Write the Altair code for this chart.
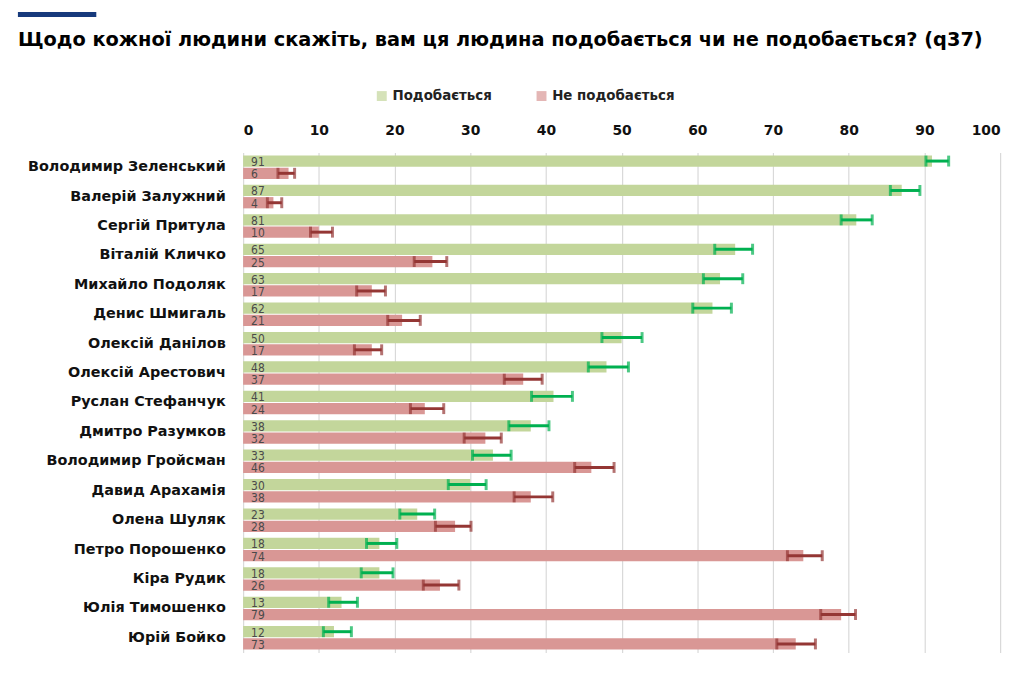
import altair as alt
import pandas as pd

names = ["Володимир Зеленський", "Валерій Залужний", "Сергій Притула", "Віталій Кличко",
         "Михайло Подоляк", "Денис Шмигаль", "Олексій Данілов", "Олексій Арестович",
         "Руслан Стефанчук", "Дмитро Разумков", "Володимир Гройсман", "Давид Арахамія",
         "Олена Шуляк", "Петро Порошенко", "Кіра Рудик", "Юлія Тимошенко", "Юрій Бойко"]
series = ["Подобається", "Не подобається"]
like = [91, 87, 81, 65, 63, 62, 50, 48, 41, 38, 33, 30, 23, 18, 18, 13, 12]
dislike = [6, 4, 10, 25, 17, 21, 17, 37, 24, 32, 46, 38, 28, 74, 26, 79, 73]
like_lo = [90.2, 85.5, 79.0, 62.3, 60.8, 59.4, 47.4, 45.6, 38.1, 35.1, 30.3, 27.1, 20.7, 16.3, 15.6, 11.3, 10.6]
like_hi = [93.2, 89.4, 83.1, 67.3, 66.0, 64.5, 52.7, 50.9, 43.5, 40.4, 35.4, 32.1, 25.3, 20.3, 19.8, 15.1, 14.3]
dis_lo = [4.6, 3.2, 8.9, 22.6, 15.0, 19.1, 14.7, 34.5, 22.1, 29.2, 43.8, 35.8, 25.4, 71.9, 23.8, 76.3, 70.5]
dis_hi = [6.8, 5.1, 11.8, 26.9, 18.8, 23.4, 18.3, 39.5, 26.5, 34.1, 49.0, 40.9, 30.1, 76.5, 28.5, 80.9, 75.6]
x_ticks = [0, 10, 20, 30, 40, 50, 60, 70, 80, 90, 100]

bar_colors = ["#c3d69b", "#d99795"]
err_colors = ["#00b050", "#943634"]

rows = []
for i, n in enumerate(names):
    rows.append({"name": n, "series": series[0], "value": like[i], "lo": like_lo[i], "hi": like_hi[i], "ecol": err_colors[0]})
    rows.append({"name": n, "series": series[1], "value": dislike[i], "lo": dis_lo[i], "hi": dis_hi[i], "ecol": err_colors[1]})
df = pd.DataFrame(rows)

FONT = "DejaVu Sans"

y_enc = alt.Y("name:N", sort=names, title=None,
              scale=alt.Scale(paddingInner=0.2, paddingOuter=0.1),
              axis=alt.Axis(ticks=False, domain=False, labelPadding=18, labelFontSize=14.5,
                            labelFontWeight="bold", labelColor="#111111", labelFont=FONT,
                            labelLimit=400))
yoff = alt.YOffset("series:N", sort=series, scale=alt.Scale(paddingInner=0.08))
x_enc = alt.X("value:Q", title=None,
              scale=alt.Scale(domain=[0, 100], nice=False),
              axis=alt.Axis(orient="top", values=x_ticks, ticks=False, domain=False,
                            labelPadding=15, labelFontSize=14, labelFontWeight="bold",
                            labelColor="#111111", labelFont=FONT, gridColor="#d9d9d9",
                            gridWidth=1.2))

base = alt.Chart(df)

bars = base.mark_bar().encode(
    x=x_enc, y=y_enc, yOffset=yoff,
    color=alt.Color("series:N", sort=series,
                    scale=alt.Scale(domain=series, range=bar_colors),
                    legend=alt.Legend(title=None, orient="none", direction="horizontal",
                                      legendX=133, legendY=-64, symbolType="square",
                                      symbolSize=100, symbolStrokeWidth=0,
                                      labelFontSize=13.5, labelFontWeight="bold",
                                      labelColor="#222222", labelFont=FONT,
                                      columnPadding=43, symbolOpacity=1)),
)

labels = base.mark_text(align="left", baseline="middle", dx=8, dy=1, fontSize=12,
                        color="#4a4a4a", font="DejaVu Sans Condensed").encode(
    x=alt.datum(0), y=alt.Y("name:N", sort=names), yOffset=yoff,
    text=alt.Text("value:Q", format=".0f"),
)

err_line = base.mark_rule(strokeWidth=3).encode(
    x="lo:Q", x2="hi:Q", y=alt.Y("name:N", sort=names), yOffset=yoff,
    color=alt.Color("ecol:N", scale=None),
)
cap_lo = base.mark_tick(thickness=3, size=11).encode(
    x="lo:Q", y=alt.Y("name:N", sort=names), yOffset=yoff,
    color=alt.Color("ecol:N", scale=None),
)
cap_hi = base.mark_tick(thickness=3, size=11).encode(
    x="hi:Q", y=alt.Y("name:N", sort=names), yOffset=yoff,
    color=alt.Color("ecol:N", scale=None),
)

deco = alt.Chart(alt.Data(values=[{"k": 1}])).mark_rule(strokeWidth=5, color="#173a7c").encode(
    x=alt.value(-227), x2=alt.value(-148), y=alt.value(-139)
)

chart = alt.layer(bars, labels, err_line, cap_lo, cap_hi, deco).properties(
    width=763, height=504,
    autosize="none",
    padding={"left": 237, "top": 143, "right": 16, "bottom": 16},
    title=alt.Title("Щодо кожної людини скажіть, вам ця людина подобається чи не подобається? (q37)",
                    anchor="start", frame="group", dx=-227, dy=43, fontSize=19.5, font=FONT,
                    fontWeight="bold", color="#000000"),
).configure_view(stroke=None)

chart.save("out.html", embed_options={"renderer": "svg", "actions": False})
